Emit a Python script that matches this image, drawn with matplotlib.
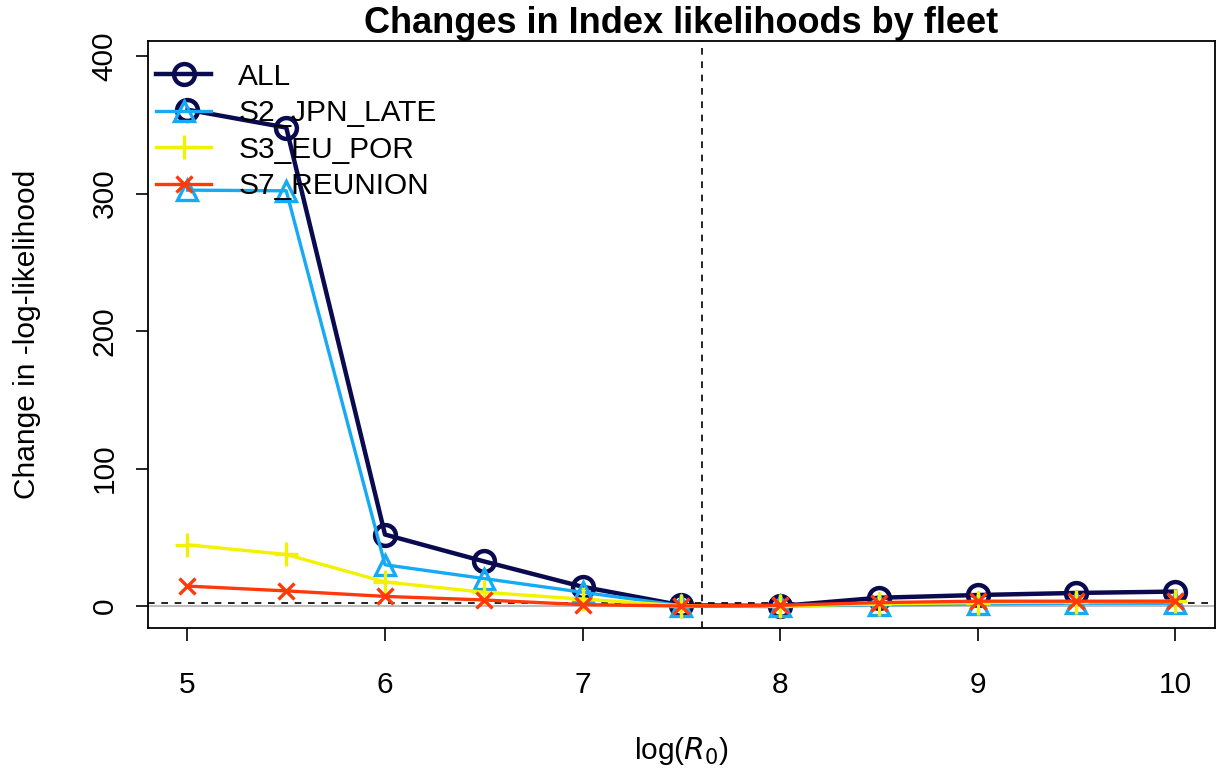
import matplotlib
matplotlib.use("Agg")
import matplotlib.pyplot as plt

plt.rcParams['font.family'] = ['Liberation Sans', 'DejaVu Sans']

# log(R0) profile values
r0_vals = [5, 5.5, 6, 6.5, 7, 7.5, 8, 8.5, 9, 9.5, 10]

fleet_names = ["ALL", "S2_JPN_LATE", "S3_EU_POR", "S7_REUNION"]
like_all = [361, 348, 52, 32.5, 14, 0.5, 0, 6, 8, 9.5, 10.5]
like_s2 = [302.5, 302, 30, 20, 10, 0.3, 0, 0.8, 1.5, 2, 2]
like_s3 = [44.5, 37.5, 17.5, 10, 5, 0.2, 0, 1.5, 2.5, 3, 3.5]
like_s7 = [14.5, 11, 7, 4.4, 1, 0, 0.5, 2.5, 3.5, 3.5, 3.5]

mle_r0 = 7.606
chi_cut = 1.92

colors = ["#0A0A50", "#14AAF5", "#F2F200", "#FF3A0A"]
markers = ["o", "^", "+", "x"]
lwds = [3.2, 2.4, 2.4, 2.4]

fig = plt.figure(figsize=(12.17, 7.7), dpi=100)
ax = fig.add_axes([0.1216, 0.1844, 0.8764, 0.7624])

ax.axhline(0, color="#BEBEBE", lw=1.5, zorder=1)
ax.axhline(chi_cut, color="black", lw=1.2, ls=(0, (4, 4)), zorder=1)
ax.axvline(mle_r0, color="black", lw=1.2, ls=(0, (4, 4)), zorder=1)

series = [like_all, like_s2, like_s3, like_s7]
for vals, name, col, mk, lw in zip(series, fleet_names, colors, markers, lwds):
    if mk in ("o", "^"):
        ax.plot(r0_vals, vals, color=col, lw=lw, marker=mk, ms=15 if mk == "o" else 14,
                mfc="none", mec=col, mew=lw, label=name, zorder=3)
    else:
        ax.plot(r0_vals, vals, color=col, lw=lw, marker=mk, ms=17 if mk == "+" else 12,
                mec=col, mew=lw, label=name, zorder=3)

ax.set_xlim(4.8, 10.2)
ax.set_ylim(-16, 411)
ax.set_xticks([5, 6, 7, 8, 9, 10])
ax.set_yticks([0, 100, 200, 300, 400])
ax.tick_params(axis="both", labelsize=21.5, length=9, width=1.2)
ax.tick_params(axis="x", pad=22)
ax.tick_params(axis="y", pad=12)
plt.setp(ax.get_yticklabels(), rotation=90, va="center")
for sp in ax.spines.values():
    sp.set_linewidth(1.3)

ax.set_title("Changes in Index likelihoods by fleet", fontsize=26, fontweight="bold", pad=3)
ax.set_xlabel(r"log($R_0$)", fontsize=21.5, labelpad=26)
ax.set_ylabel("Change in -log-likelihood", fontsize=21.5, labelpad=36)

ax.legend(loc="upper left", frameon=False, fontsize=21.5, handlelength=1.85,
          borderaxespad=0.1, labelspacing=0.28, handletextpad=0.9,
          bbox_to_anchor=(-0.0065, 0.988))

fig.savefig("out.png", dpi=100)
